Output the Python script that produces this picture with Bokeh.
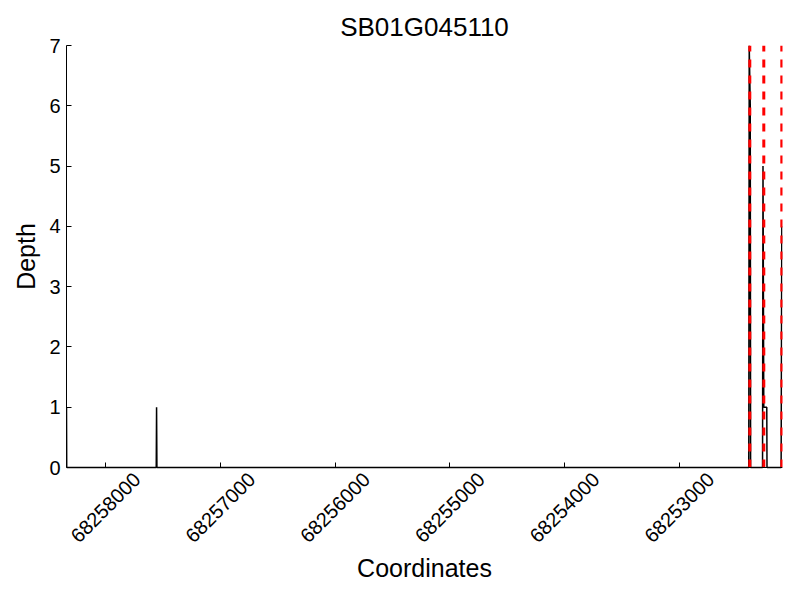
import math
from bokeh.plotting import figure
from bokeh.models import Range1d, FixedTicker, BasicTickFormatter, Title
from bokeh.core.properties import value
from bokeh.embed import file_html
from bokeh.resources import INLINE

title = "SB01G045110"

# depth profile (coordinate, depth) traced along the gene
coords = [68258340, 68258338, 68257558, 68257555, 68257552, 68252394, 68252390,
          68252381, 68252378, 68252274, 68252270, 68252263, 68252258, 68252237,
          68252235, 68252112, 68252106]
depths = [1, 0, 0, 1, 0, 0, 7, 6, 0, 0, 5, 1, 1, 1, 0, 0, 4]

# region boundaries (red dashed)
bounds = [68252385, 68252263, 68252106]

x_ticks = [68258000, 68257000, 68256000, 68255000, 68254000, 68253000]
x_tick_labels = [str(t) for t in x_ticks]
y_ticks = [0, 1, 2, 3, 4, 5, 6, 7]
x_label = "Coordinates"
y_label = "Depth"

FONT = "Liberation Sans"
W, H = 784, 584
TOP, AXIS_Y = 45, 467            # frame top and y=0 line, in pixels
YMAX = y_ticks[-1]
px = YMAX / (AXIS_Y - TOP)       # data units per pixel in y
ymin = -(H - AXIS_Y) * px

xr = Range1d(68258340, 68252100)
p = figure(width=W, height=H, output_backend="svg", toolbar_location=None,
           x_range=xr, y_range=Range1d(ymin, YMAX),
           min_border_left=66, min_border_right=2, min_border_top=TOP,
           min_border_bottom=0, title=title)

p.title.text_font = FONT
p.title.text_font_size = "26px"
p.title.text_font_style = "normal"
p.title.text_color = "black"
p.title.align = "center"
p.title.standoff = 8

p.line(coords, depths, line_color="black", line_width=1.5)
p.segment(x0=bounds, x1=bounds, y0=[0] * len(bounds), y1=[YMAX] * len(bounds),
          line_color="red", line_width=3, line_dash="8 8")

p.grid.visible = False
p.outline_line_color = None

p.xaxis.ticker = FixedTicker(ticks=x_ticks)
p.xaxis.formatter = BasicTickFormatter(use_scientific=False)
p.xaxis.fixed_location = 0
p.yaxis.ticker = FixedTicker(ticks=y_ticks)
p.yaxis.bounds = (0, YMAX)

for ax in (p.xaxis[0], p.yaxis[0]):
    ax.major_tick_in = 5
    ax.major_tick_out = 0
    ax.minor_tick_line_color = None
    ax.axis_line_color = "black"
    ax.major_tick_line_color = "black"
    ax.major_label_text_font = FONT
    ax.major_label_text_font_size = "20px"
    ax.major_label_text_color = "black"

# x tick labels are drawn as text, centred on their ticks
p.xaxis.major_label_text_color = None
p.xaxis.major_label_standoff = 0
p.yaxis.major_label_standoff = 6

# y axis title, centred on the 0..7 span (offset measured from frame bottom)
label_len = 66.7                 # approx. rendered length of "Depth" at 25px
mid_y = (TOP + AXIS_Y) / 2
p.add_layout(Title(text=y_label, align="left", offset=(H - mid_y) - label_len / 2,
                   standoff=14, text_font=FONT, text_font_size="25px",
                   text_font_style="normal", text_color="black"), "left")

p.text(x=x_ticks, y=[-40 * px] * len(x_ticks), text=x_tick_labels,
       angle=math.pi / 4, text_align="center", text_baseline="middle",
       text_font=value(FONT), text_font_size="20px", text_color="black")
p.text(x=[(xr.start + xr.end) / 2], y=[-(567 - AXIS_Y) * px], text=[x_label],
       text_align="center", text_baseline="alphabetic",
       text_font=value(FONT), text_font_size="25px", text_color="black")

open("out.html", "w").write(file_html(p, INLINE))
